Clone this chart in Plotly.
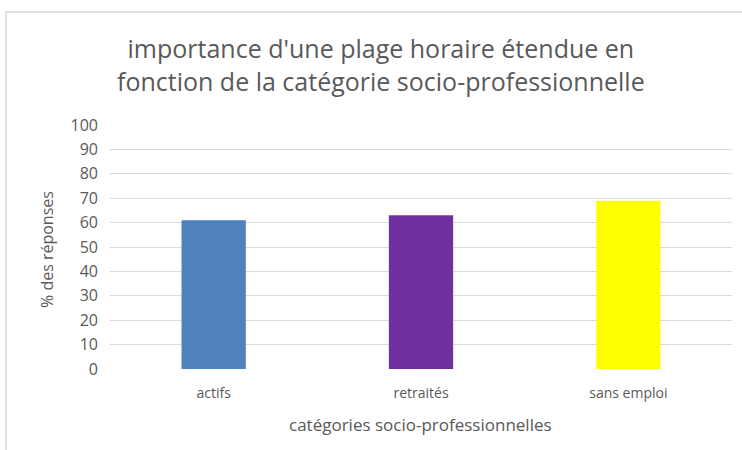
import plotly.graph_objects as go

categories = ["actifs", "retraités", "sans emploi"]
values = [61, 63, 69]
colors = ["#4F81BD", "#7030A0", "#FFFF00"]
y_ticks = list(range(0, 101, 10))

W, H = 742, 450
L, R, T, B = 110, 10, 125, 81
pw, ph = W - L - R, H - T - B

def px_x(x):
    return (x - L) / pw

def px_y(y):
    return (H - B - y) / ph

FONT = "Open Sans"
GREY = "#595959"

fig = go.Figure(go.Bar(x=categories, y=values, marker=dict(color=colors, line=dict(width=0)),
                       width=0.31))

fig.update_layout(
    width=W, height=H,
    margin=dict(l=L, r=R, t=T, b=B),
    paper_bgcolor="white", plot_bgcolor="white",
    showlegend=False,
    font=dict(family=FONT, color=GREY),
    xaxis=dict(showgrid=False, showline=False, zeroline=False, ticks="",
               tickfont=dict(size=14, color=GREY), ticklabelstandoff=14),
    yaxis=dict(range=[0, 100], tickvals=y_ticks, showgrid=True, gridcolor="#d9d9d9",
               gridwidth=1, zeroline=False, showline=False, ticks="",
               tickfont=dict(size=16, color=GREY), ticklabelstandoff=11),
    shapes=[dict(type="rect", xref="paper", yref="paper",
                 x0=px_x(6), x1=px_x(800), y0=px_y(500), y1=px_y(12),
                 line=dict(color="#d9d9d9", width=1.5), fillcolor="rgba(0,0,0,0)", layer="below")],
    annotations=[
        dict(text="importance d'une plage horaire étendue en<br>fonction de la catégorie socio-professionnelle",
             xref="paper", yref="paper", x=px_x(381), y=px_y(65), showarrow=False,
             xanchor="center", yanchor="middle", font=dict(size=25, color=GREY, family=FONT)),
        dict(text="% des réponses", xref="paper", yref="paper", x=px_x(47), y=px_y(250),
             showarrow=False, textangle=-90, xanchor="center", yanchor="middle",
             font=dict(size=16, color=GREY, family=FONT)),
        dict(text="catégories socio-professionnelles", xref="paper", yref="paper",
             x=px_x(420), y=px_y(424), showarrow=False, xanchor="center", yanchor="middle",
             font=dict(size=17, color=GREY, family=FONT)),
    ],
)

fig.write_html("out.html", config={"displayModeBar": False},
               post_script="document.body.style.margin='0';")
